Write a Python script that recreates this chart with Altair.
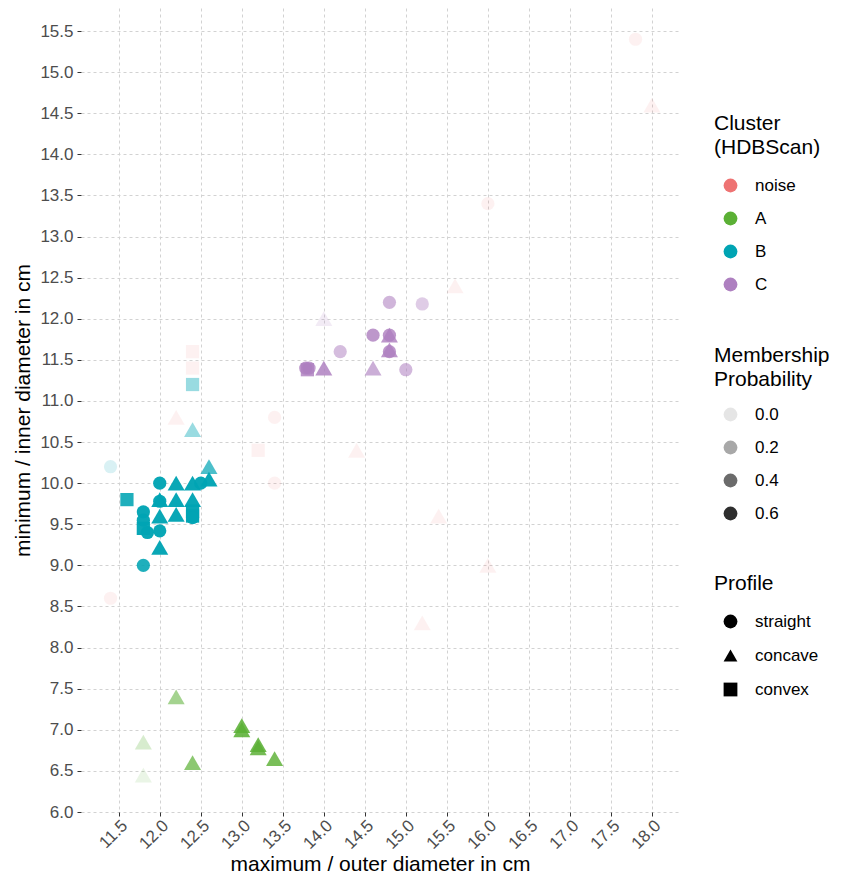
import altair as alt
import pandas as pd

# ---- data ----
outer = [17.8, 18.0, 16.0, 15.6, 12.2, 13.2, 13.4, 13.4, 11.4, 14.4, 15.4, 16.0, 15.2, 12.4, 12.4,
         12.2, 11.8, 11.8, 12.4, 13.0, 13.0, 13.2, 13.2, 13.4,
         12.4, 12.4, 11.4, 12.6, 11.6, 12.0, 12.2, 12.4, 12.5, 12.6, 12.0, 12.0, 12.2, 12.4,
         11.8, 11.8, 12.0, 12.2, 12.4, 12.4, 12.4, 11.8, 11.85, 12.0, 12.0, 11.8,
         14.8, 15.2, 14.0, 14.6, 14.8, 14.8, 14.8, 14.8, 14.2, 13.8, 13.78, 13.82, 14.0, 14.6, 15.0]
inner = [15.4, 14.6, 13.4, 12.4, 10.8, 10.4, 10.8, 10.0, 8.6, 10.4, 9.6, 9.0, 8.3, 11.6, 11.4,
         7.4, 6.85, 6.45, 6.6, 7.05, 7.0, 6.82, 6.78, 6.65,
         11.2, 10.65, 10.2, 10.2, 9.8, 10.0, 10.0, 10.0, 10.0, 10.05, 9.8, 9.78, 9.8, 9.8,
         9.65, 9.55, 9.6, 9.62, 9.66, 9.6, 9.58, 9.45, 9.4, 9.42, 9.22, 9.0,
         12.2, 12.18, 12.0, 11.8, 11.8, 11.8, 11.6, 11.62, 11.6, 11.38, 11.4, 11.4, 11.4, 11.4, 11.38]
cluster = ["noise"] * 15 + ["A"] * 9 + ["B"] * 26 + ["C"] * 15
profile = ["straight", "concave", "straight", "concave", "concave", "convex", "straight", "straight",
           "straight", "concave", "concave", "concave", "concave", "convex", "convex",
           "concave", "concave", "concave", "concave", "concave", "concave", "concave", "concave", "concave",
           "convex", "concave", "straight", "concave", "convex", "straight", "concave", "concave",
           "straight", "concave", "concave", "straight", "concave", "concave",
           "straight", "straight", "concave", "concave", "convex", "convex", "straight", "convex",
           "straight", "straight", "concave", "straight",
           "straight", "straight", "concave", "straight", "straight", "concave", "straight", "concave",
           "straight", "convex", "straight", "straight", "concave", "concave", "straight"]
prob = [0.0] * 15 + \
       [0.38, 0.12, 0.02, 0.5, 0.65, 0.65, 0.65, 0.62, 0.6] + \
       [0.25, 0.25, 0.04, 0.5, 0.65, 0.72, 0.72, 0.72, 0.72, 0.72, 0.72, 0.72, 0.72, 0.72,
        0.72, 0.72, 0.72, 0.72, 0.72, 0.72, 0.72, 0.72, 0.72, 0.72, 0.72, 0.65] + \
       [0.4, 0.25, 0.05, 0.6, 0.6, 0.6, 0.6, 0.6, 0.35, 0.6, 0.6, 0.55, 0.62, 0.45, 0.38]

clusters = ["noise", "A", "B", "C"]
cluster_colors = ["#EE7373", "#5BB035", "#00A4B3", "#AE80C0"]
profiles = ["straight", "concave", "convex"]
shapes = ["circle", "triangle-up", "square"]
x_ticks = [11.5, 12.0, 12.5, 13.0, 13.5, 14.0, 14.5, 15.0, 15.5, 16.0, 16.5, 17.0, 17.5, 18.0]
y_ticks = [6.0, 6.5, 7.0, 7.5, 8.0, 8.5, 9.0, 9.5, 10.0, 10.5, 11.0, 11.5, 12.0, 12.5,
           13.0, 13.5, 14.0, 14.5, 15.0, 15.5]
prob_legend = [0.0, 0.2, 0.4, 0.6]

df = pd.DataFrame({"outer": outer, "inner": inner, "cluster": cluster,
                   "profile": profile, "prob": prob})

FONT = "Liberation Sans"

chart = alt.Chart(df).mark_point(filled=True, strokeWidth=0).encode(
    x=alt.X("outer:Q",
            scale=alt.Scale(domain=[11.04, 18.33], nice=False, zero=False),
            axis=alt.Axis(values=x_ticks, format=".1f", labelAngle=-45, labelPadding=1,
                          title="maximum / outer diameter in cm",
                          titleBaseline="bottom", titleY=62)),
    y=alt.Y("inner:Q",
            scale=alt.Scale(domain=[6.0, 15.78], nice=False, zero=False),
            axis=alt.Axis(values=y_ticks, format=".1f",
                          title="minimum / inner diameter in cm", titlePadding=6)),
    color=alt.Color("cluster:N",
                    scale=alt.Scale(domain=clusters, range=cluster_colors),
                    legend=alt.Legend(title=["Cluster", "(HDBScan)"], orient="none",
                                      legendX=633, legendY=105, symbolType="circle",
                                      symbolOpacity=1, titlePadding=19)),
    opacity=alt.Opacity("prob:Q",
                        scale=alt.Scale(domain=[0, 0.75], range=[0.1, 1]),
                        legend=alt.Legend(title=["Membership", "Probability"], type="symbol",
                                          values=prob_legend, format=".1f", orient="none",
                                          legendX=633, legendY=337, symbolType="circle",
                                          symbolFillColor="black", titlePadding=16)),
    shape=alt.Shape("profile:N",
                    scale=alt.Scale(domain=profiles, range=shapes),
                    legend=alt.Legend(title="Profile", orient="none", legendX=633, legendY=565,
                                      symbolFillColor="black", symbolOpacity=1,
                                      titlePadding=19, rowPadding=16)),
    size=alt.condition(alt.datum.profile == "concave", alt.value(290), alt.value(175)),
).properties(
    width=598, height=804,
    padding={"left": 73, "top": 0, "right": 159, "bottom": 63},
    autosize=alt.AutoSizeParams(type="none"),
).configure_view(stroke=None).configure_axis(
    grid=True, gridColor="#D2D2D2", gridDash=[3, 3], gridWidth=1,
    domain=False, tickColor="#333333", tickSize=4, tickWidth=1,
    labelFont=FONT, labelFontSize=17, labelColor="#4D4D4D", labelPadding=4,
    titleFont=FONT, titleFontSize=21, titleColor="#000000", titleFontWeight="normal",
).configure_legend(
    titleFont=FONT, titleFontSize=21, titleFontWeight="normal", titleColor="#000000",
    titleLineHeight=24,
    labelFont=FONT, labelFontSize=17, labelColor="#000000",
    rowPadding=15, symbolSize=190, symbolOffset=8, labelOffset=16, padding=0,
    symbolStrokeWidth=0,
)

chart.save("out.html", embed_options={"renderer": "svg", "actions": False})
